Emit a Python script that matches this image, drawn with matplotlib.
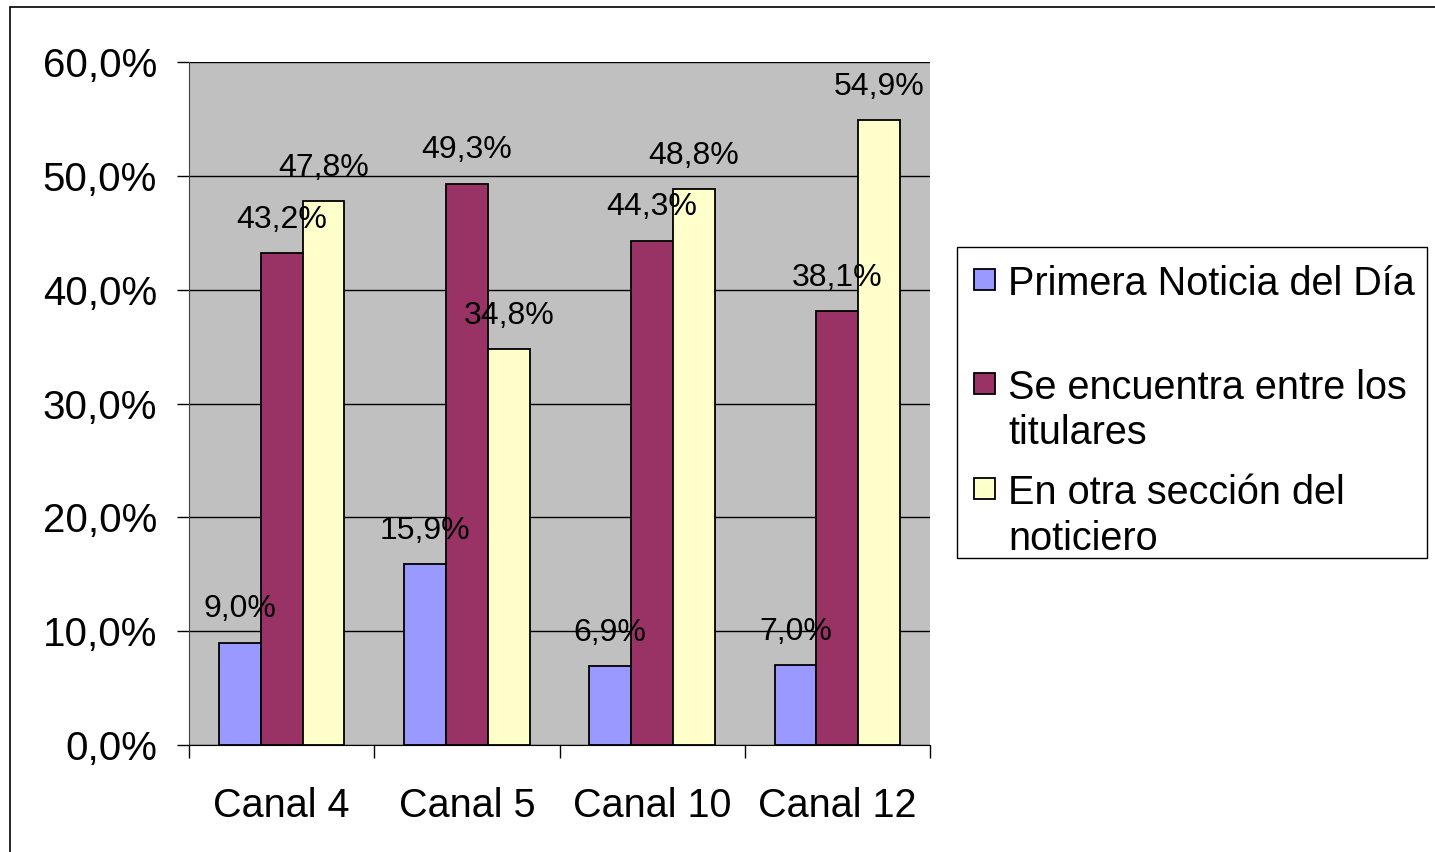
import matplotlib
matplotlib.use("Agg")
import matplotlib.pyplot as plt
import numpy as np
from matplotlib.patches import Rectangle

# data (percent)
canales = ["Canal 4", "Canal 5", "Canal 10", "Canal 12"]
series = ["Primera Noticia del Día", "Se encuentra entre los\ntitulares", "En otra sección del\nnoticiero"]
primera = [9.0, 15.9, 6.9, 7.0]
titulares = [43.2, 49.3, 44.3, 38.1]
otra_seccion = [47.8, 34.8, 48.8, 54.9]
yticks = [0, 10, 20, 30, 40, 50, 60]

colors = ["#9999FF", "#993366", "#FFFFCC"]

W, H = 1435, 852
plt.rcParams["font.family"] = ["Liberation Sans", "DejaVu Sans"]


def px(x, y):
    return x / W, 1 - y / H


fig = plt.figure(figsize=(W / 100, H / 100), dpi=100)
ax = fig.add_axes([189 / W, 107 / H, (930 - 189) / W, (745 - 62) / H])
ax.set_facecolor("#C0C0C0")

x = np.arange(len(canales))
w = 0.226
for i, (vals, c) in enumerate(zip([primera, titulares, otra_seccion], colors)):
    bars = ax.bar(x + (i - 1) * w, vals, w, color=c, edgecolor="black", linewidth=1.3, zorder=3)
    for b, v in zip(bars, vals):
        ax.annotate(f"{v:.1f}%".replace(".", ","), (b.get_x() + b.get_width() / 2, v),
                    xytext=(0, 24), textcoords="offset points", ha="center", va="center",
                    fontsize=23, zorder=4)

ax.set_xlim(-0.5, len(canales) - 0.5)
ax.set_ylim(0, 60)
ax.set_yticks(yticks)
ax.set_yticklabels([f"{t:.1f}%".replace(".", ",") for t in yticks], fontsize=29)
ax.yaxis.grid(True, color="black", linewidth=1.0, zorder=1)
ax.set_axisbelow(True)

ax.set_xticks(np.arange(len(canales) + 1) - 0.5)
ax.set_xticklabels([])
ax.set_xticks(x, minor=True)
ax.set_xticklabels(canales, minor=True, fontsize=28.5)
ax.tick_params(axis="x", which="major", length=9, width=1, color="black")
ax.tick_params(axis="x", which="minor", length=0, pad=30)
ax.tick_params(axis="y", length=9, width=1, pad=14)

for s in ["top", "right"]:
    ax.spines[s].set_visible(False)
ax.spines["left"].set_color("#404040")
ax.spines["bottom"].set_color("black")

# outer chart border
fig.patches.append(Rectangle(px(10, 860), (W + 20) / W, (860 - 7) / H, transform=fig.transFigure,
                             fill=False, edgecolor="black", linewidth=1.2))

# legend box, drawn like the spreadsheet one
fig.patches.append(Rectangle(px(957, 558), (1427 - 957) / W, (558 - 247) / H,
                             transform=fig.transFigure, facecolor="white",
                             edgecolor="black", linewidth=1.0))
first_line_y = [279, 383, 488]
for name, c, yy in zip(series, colors, first_line_y):
    fig.patches.append(Rectangle(px(974, yy + 11), 21 / W, 21 / H, transform=fig.transFigure,
                                 facecolor=c, edgecolor="black", linewidth=1.3))
    fig.text(*px(1008, yy - 14), name, fontsize=28.5, ha="left", va="top", linespacing=1.25)

fig.savefig("out.png", dpi=100)
